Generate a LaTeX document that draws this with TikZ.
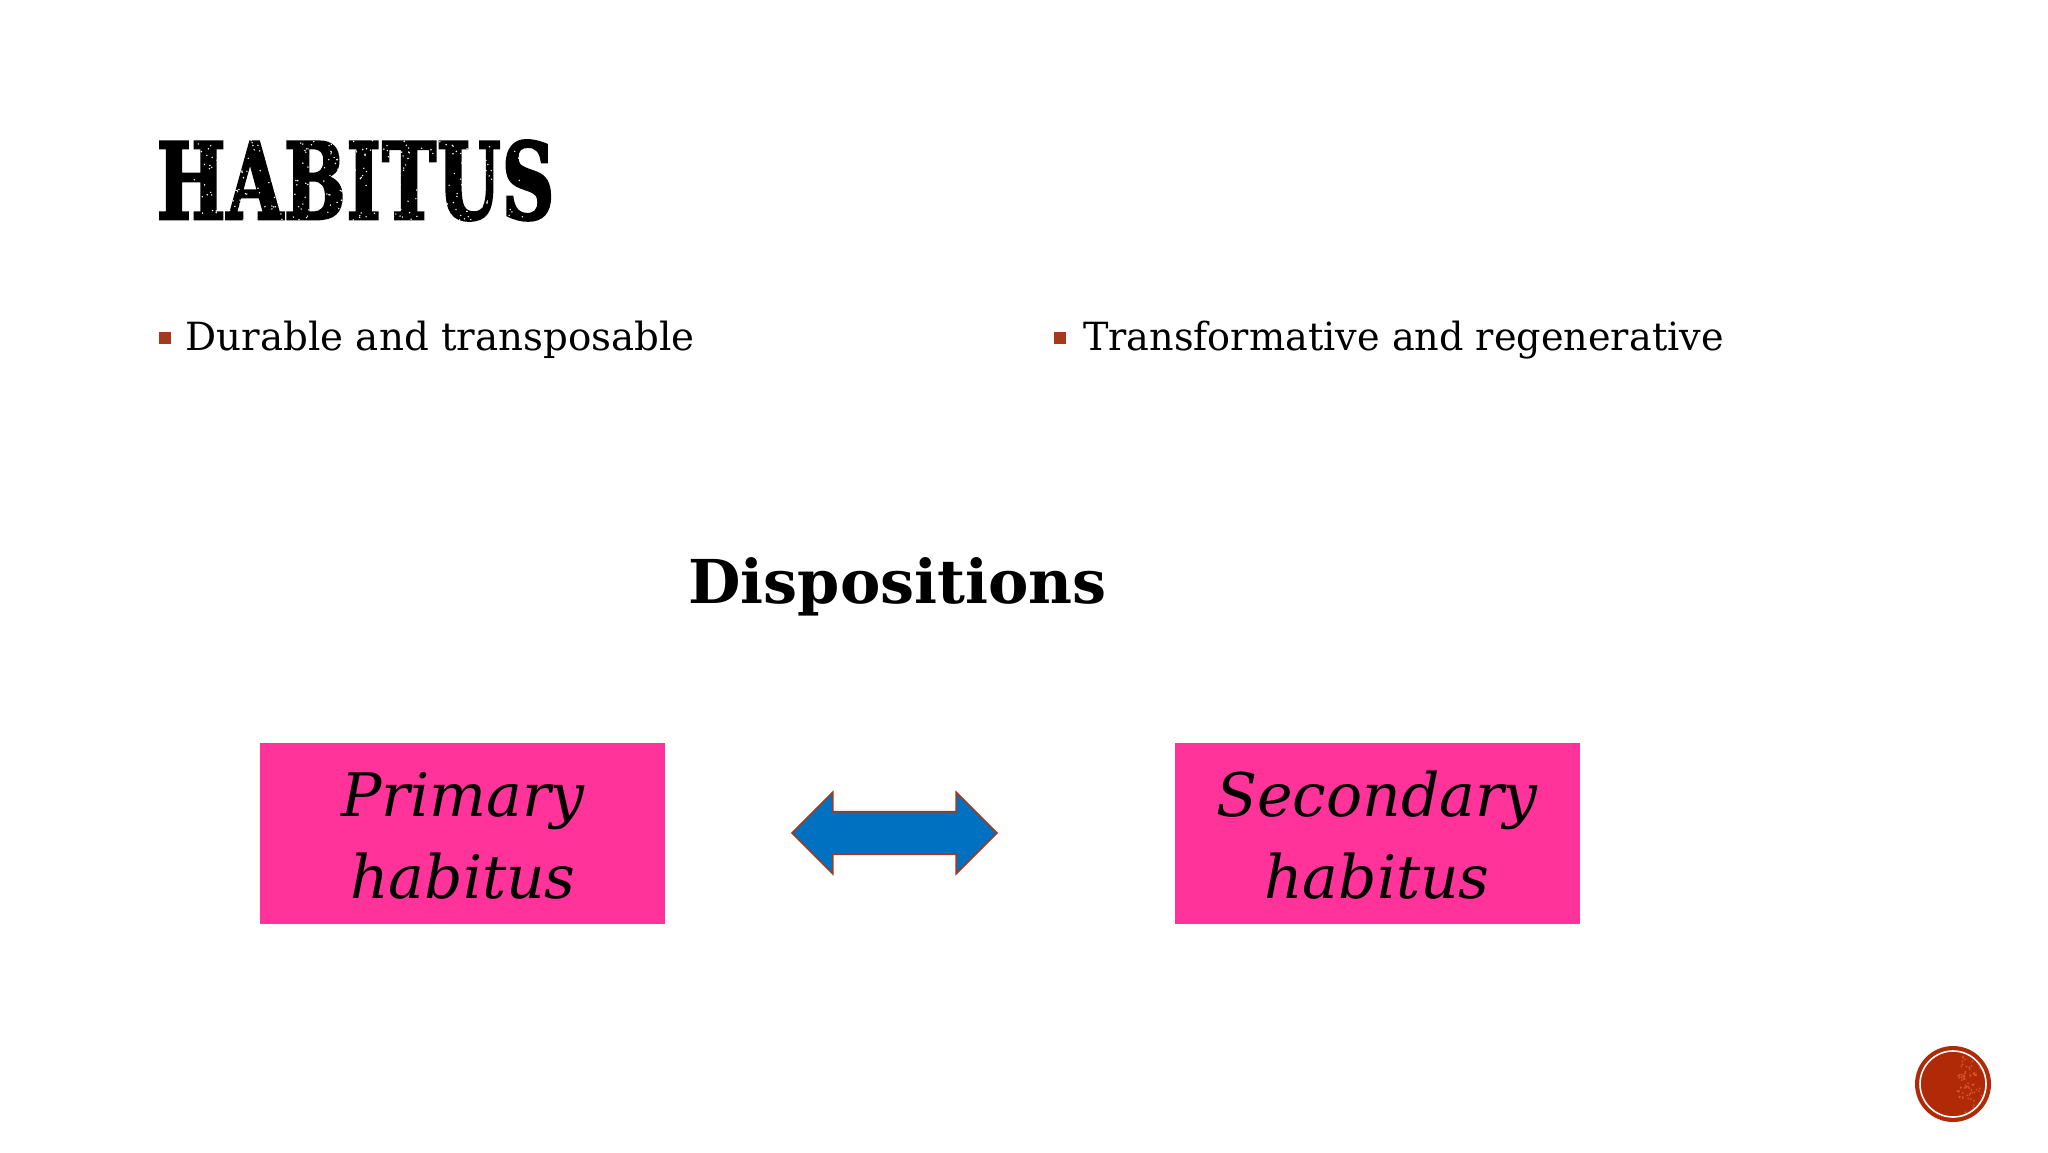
\documentclass[tikz,border=0pt]{standalone}
\usepackage{fontspec}
\setmainfont{DejaVu Serif}
\newfontfamily\titlefont[FakeStretch=0.755,FakeBold=2.5,LetterSpace=1.6,Kerning=Off]{DejaVu Serif Condensed Bold}
\newfontfamily\bodyfontb[FakeStretch=0.984]{DejaVu Serif}
\usetikzlibrary{shapes.arrows}
\definecolor{rust}{HTML}{A5391B}
\definecolor{rustdark}{HTML}{B02A07}
\definecolor{rustlight}{HTML}{D9552E}
\definecolor{pinkbox}{HTML}{FF3399}
\definecolor{bluefill}{HTML}{0070C0}
\tikzset{
  x=1pt,y=-1pt,
  txt/.style={anchor=base west,inner sep=0pt,text=black},
  bodytxt/.style={txt,font=\fontsize{38.8}{38.8}\selectfont},
  headtxt/.style={txt,font=\fontsize{60.5}{60.5}\bfseries\selectfont},
  boxtxt/.style={anchor=base,inner sep=0pt,text=black,font=\fontsize{60}{60}\itshape\selectfont},
  pinkrect/.style={fill=pinkbox,draw=none,inner sep=0pt,minimum width=405pt,minimum height=181pt},
  bulletsq/.style={fill=rust,draw=none,inner sep=0pt,minimum size=12pt},
}
\begin{document}
\begin{tikzpicture}
\useasboundingbox (0,0) rectangle (2048,1152);
\fill[white] (0,0) rectangle (2048,1152);
% title
\node[txt,font=\titlefont\fontsize{106}{106}\selectfont] (title) at (157,219) {HABITUS};
\pgfmathsetseed{7}
\foreach \i in {1,...,380}{
  \pgfmathsetmacro{\px}{192+331*rnd}
  \pgfmathsetmacro{\py}{140+80*rnd}
  \fill[white] (\px,\py) circle (0.8pt);
}
% bullets
\node[bulletsq] (b1) at (164.5,337.5) {};
\node[bodytxt] (t1) at (185.5,350) {Durable and transposable};
\node[bulletsq] (b2) at (1060,337.5) {};
\node[bodytxt,font=\bodyfontb\fontsize{38.8}{38.8}\selectfont] (t2) at (1083,350) {Transformative and regenerative};
\node[headtxt] (disp) at (688,603.5) {Dispositions};
% boxes
\node[pinkrect] (p) at (462.5,833.5) {};
\node[pinkrect] (s) at (1377,833.5) {};
\node[boxtxt] (p1) at (463,816) {Primary};
\node[boxtxt] (p2) at (463,898) {habitus};
\node[boxtxt] (s1) at (1377,816) {Secondary};
\node[boxtxt] (s2) at (1377,898) {habitus};
% arrow
\node[double arrow,draw=rust,line width=1.6pt,fill=bluefill,inner xsep=0pt,inner ysep=20.5pt,
  minimum height=205pt,double arrow head extend=19.5pt,
  double arrow tip angle=90] (arrow) at (894.5,833) {};
% badge
\node[circle,fill=rustdark,inner sep=0pt,minimum size=76pt] (badge) at (1953,1084) {};
\pgfmathsetseed{11}
\foreach \i in {1,...,70}{
  \pgfmathsetmacro{\pa}{-70+140*rnd}
  \pgfmathsetmacro{\pr}{8+24*rnd}
  \fill[rustlight] (1953,1084) ++(\pa:\pr) circle (1pt);
}
\node[circle,draw=white,line width=1.6pt,inner sep=0pt,minimum size=66pt] (ring) at (1953,1084) {};
\end{tikzpicture}
\end{document}
